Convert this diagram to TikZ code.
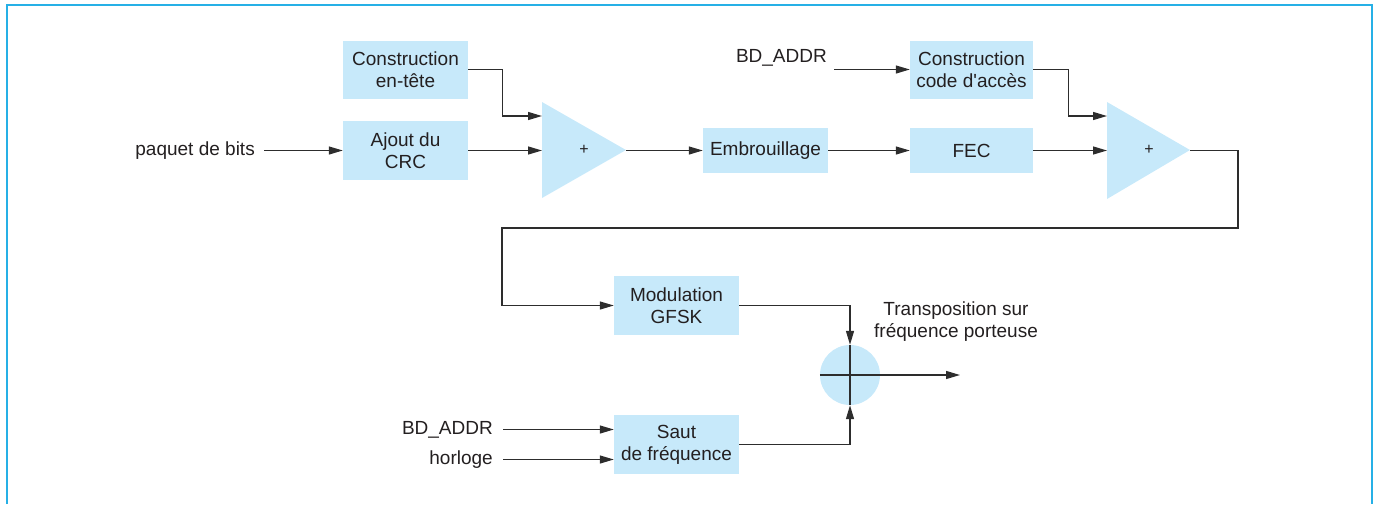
\documentclass[tikz,border=0pt]{standalone}
\usepackage{fontspec}
\setmainfont{Liberation Sans}[Ligatures=TeXOff]
\usetikzlibrary{arrows.meta}
\definecolor{boxblue}{RGB}{199,233,250}
\definecolor{framecol}{RGB}{38,176,230}
\definecolor{inkc}{RGB}{35,31,32}
\definecolor{linec}{RGB}{45,45,45}
\tikzset{
  blk/.style={fill=boxblue, draw=none, inner sep=0pt, align=center, text=inkc,
    font=\fontsize{19}{22}\selectfont},
  lbl/.style={inner sep=0pt, text=inkc, font=\fontsize{19}{22}\selectfont},
  plus/.style={inner sep=0pt, text=inkc, font=\fontsize{16}{16}\selectfont},
  wire/.style={draw=linec, line width=1.3pt},
  arr/.style={wire, -{Triangle[length=14pt,width=8pt]}},
}
\begin{document}
\begin{tikzpicture}[x=1pt,y=-1pt]
\useasboundingbox (0,0) rectangle (1379,504);
% frame
\draw[framecol, line width=2pt] (7,504) -- (7,5) -- (1372,5) -- (1372,504);

% blocks
\node[blk, minimum width=125pt, minimum height=58pt] (hdr) at (405.5,69.5) {Construction\\en-tête};
\node[blk, minimum width=125pt, minimum height=59pt] (crc) at (405.5,150.5) {Ajout du\\CRC};
\node[blk, minimum width=125pt, minimum height=45pt] (emb) at (765.5,150.5) {Embrouillage};
\node[blk, minimum width=123pt, minimum height=45pt] (fec) at (971.5,150.5) {FEC};
\node[blk, minimum width=123pt, minimum height=58pt] (acc) at (971.5,69.5) {Construction\\code d'accès};
\node[blk, minimum width=125pt, minimum height=59pt] (mod) at (676.5,305.5) {Modulation\\GFSK};
\node[blk, minimum width=125pt, minimum height=59pt] (saut) at (676.5,444.5) {Saut\\de fréquence};

% summing triangles
\fill[boxblue] (542,102) -- (542,198) -- (626,150) -- cycle;
\node[plus] (sum1) at (584,150) {+};
\coordinate (t1a) at (542,116);
\coordinate (t1b) at (542,150.5);
\coordinate (t1o) at (626,150.5);
\fill[boxblue] (1107,102) -- (1107,199) -- (1190,150) -- cycle;
\node[plus] (sum2) at (1149,150) {+};
\coordinate (t2a) at (1107,116);
\coordinate (t2b) at (1107,150.5);
\coordinate (t2o) at (1190,150.5);

% mixer
\node[circle, fill=boxblue, minimum size=60pt, inner sep=0pt] (mix) at (850,375) {};
\coordinate (out) at (960,375);

% labels
\node[lbl, anchor=east] (pq) at (255,150.5) {paquet de bits};
\node[lbl, anchor=base east] (bd1) at (827,62) {BD\_ADDR};
\node[lbl, anchor=east] (bd2) at (493,429.5) {BD\_ADDR};
\node[lbl, anchor=east] (hor) at (493,459.5) {horloge};
\node[lbl, align=center] (tr) at (956,322) {Transposition sur\\fréquence porteuse};
\coordinate (bd1s) at (834,69.5);

% connectors
\draw[arr] ([xshift=9pt]pq.east) -- (crc.west);
\draw[arr] (hdr.east) -- ++(34,0) |- (t1a);
\draw[arr] (crc.east) -- (t1b);
\draw[arr] (t1o) -- (emb.west);
\draw[arr] (emb.east) -- (fec.west);
\draw[arr] (bd1s) -- (acc.west);
\draw[arr] (acc.east) -- ++(35,0) |- (t2a);
\draw[arr] (fec.east) -- (t2b);
\draw[arr] (t2o) -- (1238,150.5) -- (1238,228) -- (502,228) |- (mod.west);
\draw[arr] (mod.east) -| (mix.north);
\draw[arr] (saut.east) -| (mix.south);
\draw[wire] (mix.north) -- (mix.south);
\draw[arr] (mix.west) -- (out);
\draw[arr] ([xshift=10pt]bd2.east) -- (saut.west |- bd2.east);
\draw[arr] ([xshift=10pt]hor.east) -- (saut.west |- hor.east);
\end{tikzpicture}
\end{document}
